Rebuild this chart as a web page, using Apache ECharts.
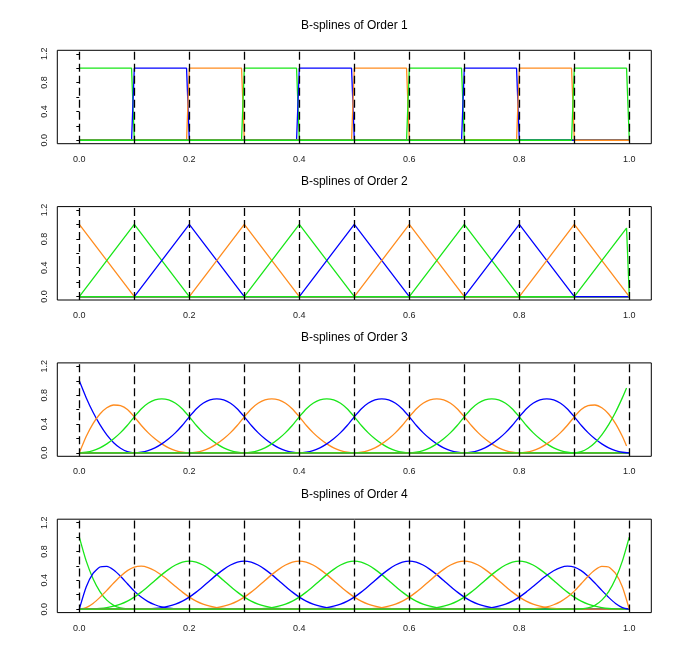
<!DOCTYPE html>
<html>
<head>
<meta charset="utf-8" />
<title>B-splines</title>
<script src="https://cdn.jsdelivr.net/npm/echarts@6/dist/echarts.min.js"></script>
<style>
  html, body { margin: 0; padding: 0; background: #fff; }
  #main { width: 697px; height: 669px; }
</style>
</head>
<body>
<div id="main"></div>
<script>
// knots (dashed lines) and tick labels
var knots = [0, 0.1, 0.2, 0.3, 0.4, 0.5, 0.6, 0.7, 0.8, 0.9, 1.0];
var xLabels = [0, 0.2, 0.4, 0.6, 0.8, 1.0];
var yTicks = [0, 0.2, 0.4, 0.6, 0.8, 1.0, 1.2];
var yLabels = [0, 0.4, 0.8, 1.2];
var titles = ['B-splines of Order 1', 'B-splines of Order 2', 'B-splines of Order 3', 'B-splines of Order 4'];

var G = '#19e619', B = '#0000ff', O = '#ff8c1f';
var panelColors = [
  [G, B, O],
  [O, G, B],
  [B, O, G],
  [G, B, O]
];

// order 1 : step functions
var order1 = [
  [[0, 1], [0.095, 1], [0.1, 0], [1, 0]],
  [[0, 0], [0.095, 0], [0.1, 1], [0.195, 1], [0.2, 0], [1, 0]],
  [[0, 0], [0.195, 0], [0.2, 1], [0.295, 1], [0.3, 0], [1, 0]],
  [[0, 0], [0.295, 0], [0.3, 1], [0.395, 1], [0.4, 0], [1, 0]],
  [[0, 0], [0.395, 0], [0.4, 1], [0.495, 1], [0.5, 0], [1, 0]],
  [[0, 0], [0.495, 0], [0.5, 1], [0.595, 1], [0.6, 0], [1, 0]],
  [[0, 0], [0.595, 0], [0.6, 1], [0.695, 1], [0.7, 0], [1, 0]],
  [[0, 0], [0.695, 0], [0.7, 1], [0.795, 1], [0.8, 0], [1, 0]],
  [[0, 0], [0.795, 0], [0.8, 1], [0.895, 1], [0.9, 0], [1, 0]],
  [[0, 0], [0.895, 0], [0.9, 1], [0.995, 1], [1, 0]]
];

// order 2 : hats
var order2 = [
  [[0, 1], [0.1, 0], [1, 0]],
  [[0, 0], [0.1, 1], [0.2, 0], [1, 0]],
  [[0, 0], [0.1, 0], [0.2, 1], [0.3, 0], [1, 0]],
  [[0, 0], [0.2, 0], [0.3, 1], [0.4, 0], [1, 0]],
  [[0, 0], [0.3, 0], [0.4, 1], [0.5, 0], [1, 0]],
  [[0, 0], [0.4, 0], [0.5, 1], [0.6, 0], [1, 0]],
  [[0, 0], [0.5, 0], [0.6, 1], [0.7, 0], [1, 0]],
  [[0, 0], [0.6, 0], [0.7, 1], [0.8, 0], [1, 0]],
  [[0, 0], [0.7, 0], [0.8, 1], [0.9, 0], [1, 0]],
  [[0, 0], [0.8, 0], [0.9, 1], [1, 0]],
  [[0, 0], [0.9, 0], [0.995, 0.95], [1, 0]]
];

// orders 3 and 4 : values read every 0.0125 from the start x0
var step = 0.0125;
var quadInner = [0, 0.008, 0.031, 0.07, 0.125, 0.195, 0.281, 0.383, 0.5, 0.609, 0.688, 0.734, 0.75,
  0.734, 0.688, 0.609, 0.5, 0.383, 0.281, 0.195, 0.125, 0.07, 0.031, 0.008, 0];
var order3 = [
  { x0: 0, ys: [1, 0.766, 0.563, 0.391, 0.25, 0.141, 0.063, 0.016, 0] },
  { x0: 0, ys: [0, 0.227, 0.406, 0.539, 0.625, 0.664, 0.656, 0.602, 0.5, 0.383, 0.281, 0.195, 0.125, 0.07, 0.031, 0.008, 0] },
  { x0: 0, ys: quadInner },
  { x0: 0.1, ys: quadInner },
  { x0: 0.2, ys: quadInner },
  { x0: 0.3, ys: quadInner },
  { x0: 0.4, ys: quadInner },
  { x0: 0.5, ys: quadInner },
  { x0: 0.6, ys: quadInner },
  { x0: 0.7, ys: quadInner },
  { x0: 0.8, ys: [0, 0.008, 0.031, 0.07, 0.125, 0.195, 0.281, 0.383, 0.5, 0.602, 0.656, 0.664, 0.625, 0.539, 0.406, 0.227],
    tail: [[0.995, 0.096]] },
  { x0: 0.9, ys: [0, 0.016, 0.063, 0.141, 0.25, 0.391, 0.563, 0.766], tail: [[0.995, 0.9]] }
];

var cubicInner = [0, 0.0003, 0.003, 0.009, 0.021, 0.041, 0.07, 0.112, 0.167, 0.236, 0.315, 0.398, 0.479, 0.552, 0.612, 0.652, 0.667,
  0.652, 0.612, 0.552, 0.479, 0.398, 0.315, 0.236, 0.167, 0.112, 0.07, 0.041, 0.021, 0.009, 0.003, 0.0003, 0];
var order4 = [
  { x0: 0, ys: [1, 0.67, 0.422, 0.244, 0.125, 0.053, 0.016, 0.002, 0] },
  { x0: 0, ys: [0, 0.308, 0.496, 0.585, 0.594, 0.544, 0.457, 0.352, 0.25, 0.167, 0.105, 0.061, 0.031, 0.013, 0.004, 0.0005, 0] },
  { x0: 0, ys: [0, 0.022, 0.079, 0.163, 0.26, 0.362, 0.457, 0.534, 0.583, 0.596, 0.577, 0.532, 0.469, 0.394, 0.314, 0.236,
    0.167, 0.112, 0.07, 0.041, 0.021, 0.009, 0.003, 0.0003, 0] },
  { x0: 0, ys: cubicInner },
  { x0: 0.1, ys: cubicInner },
  { x0: 0.2, ys: cubicInner },
  { x0: 0.3, ys: cubicInner },
  { x0: 0.4, ys: cubicInner },
  { x0: 0.5, ys: cubicInner },
  { x0: 0.6, ys: cubicInner },
  { x0: 0.7, ys: [0, 0.0003, 0.003, 0.009, 0.021, 0.041, 0.07, 0.112, 0.167, 0.236, 0.314, 0.394, 0.469, 0.532, 0.577, 0.596,
    0.583, 0.534, 0.457, 0.362, 0.26, 0.163, 0.079, 0.022, 0] },
  { x0: 0.8, ys: [0, 0.0005, 0.004, 0.013, 0.031, 0.061, 0.105, 0.167, 0.25, 0.352, 0.457, 0.544, 0.594, 0.585, 0.496, 0.308, 0] },
  { x0: 0.9, ys: [0, 0.002, 0.016, 0.053, 0.125, 0.244, 0.422, 0.67, 1] }
];

function toPairs(c) {
  var pts = [];
  if (c.x0 > 0) pts.push([0, 0]);
  for (var k = 0; k < c.ys.length; k++) {
    pts.push([Math.round((c.x0 + k * step) * 10000) / 10000, c.ys[k]]);
  }
  if (c.tail) {
    pts = pts.concat(c.tail);
  } else if (pts[pts.length - 1][0] < 1) {
    pts.push([1, 0]);
  }
  return pts;
}

var panels = [order1, order2, order3.map(toPairs), order4.map(toPairs)];

var gridTop0 = 50.3, gridGap = 156.3, gridH = 93.4;
var grids = [], xAxes = [], yAxes = [], titleOpts = [], series = [];

for (var p = 0; p < 4; p++) {
  var boxTop = gridTop0 + p * gridGap;
  grids.push({
    left: 57.3, right: 45.7, top: boxTop, height: gridH,
    show: true, borderColor: '#000', borderWidth: 1, backgroundColor: 'transparent'
  });
  titleOpts.push({
    text: titles[p], left: 354.3, top: boxTop - 31, textAlign: 'center', padding: 0,
    textStyle: { fontFamily: 'Liberation Sans, Arial, sans-serif', fontSize: 12, fontWeight: 'normal', color: '#000' }
  });
  xAxes.push({
    gridIndex: p, type: 'value', min: -0.04, max: 1.04,
    axisLine: { show: false }, axisTick: { show: false }, splitLine: { show: false },
    axisLabel: {
      customValues: xLabels, margin: 11, fontSize: 9, color: '#222',
      fontFamily: 'Liberation Sans, Arial, sans-serif',
      formatter: function (v) { return v.toFixed(1); }
    }
  });
  yAxes.push({
    gridIndex: p, type: 'value', min: -0.048, max: 1.248,
    axisLine: { show: false }, splitLine: { show: false },
    axisTick: { show: true, customValues: yTicks, length: 3, lineStyle: { color: '#000', width: 1 } },
    axisLabel: {
      customValues: yLabels, rotate: 90, margin: 8, fontSize: 9, color: '#222',
      fontFamily: 'Liberation Sans, Arial, sans-serif',
      formatter: function (v) { return v.toFixed(1); }
    }
  });

  var curves = panels[p];
  for (var i = 0; i < curves.length; i++) {
    var s = {
      type: 'line', xAxisIndex: p, yAxisIndex: p,
      data: curves[i], showSymbol: false, symbol: 'none',
      smooth: p >= 2 ? 0.2 : false,
      lineStyle: { color: panelColors[p][i % 3], width: 1.3 },
      silent: true, animation: false
    };
    if (i === curves.length - 1) {
      s.markLine = {
        symbol: 'none', silent: true, animation: false,
        label: { show: false },
        lineStyle: { color: '#000', type: [8, 4], width: 1.3 },
        data: knots.map(function (k) { return { xAxis: k }; })
      };
    }
    series.push(s);
  }
}

var chart = echarts.init(document.getElementById('main'), null, { renderer: 'canvas' });
chart.setOption({
  animation: false,
  backgroundColor: '#fff',
  title: titleOpts,
  grid: grids,
  xAxis: xAxes,
  yAxis: yAxes,
  series: series
});
</script>
</body>
</html>
